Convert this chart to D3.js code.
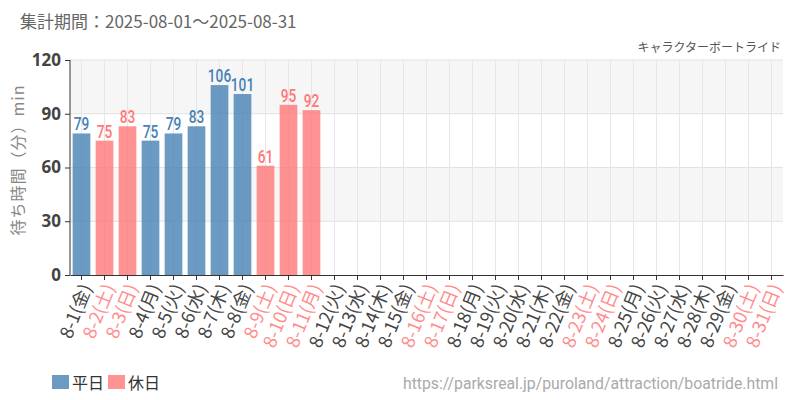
<!DOCTYPE html>
<html><head><meta charset="utf-8">
<script src="https://cdn.jsdelivr.net/npm/d3@7/dist/d3.min.js"></script>
<style>body{margin:0;background:#fff;}svg{display:block;font-family:"Noto Sans CJK JP","Noto Sans",sans-serif;}</style>
</head><body><svg id="c" width="800" height="400"></svg>
<script>
const days = ["8-1","8-2","8-3","8-4","8-5","8-6","8-7","8-8","8-9","8-10","8-11","8-12","8-13","8-14","8-15","8-16","8-17","8-18","8-19","8-20","8-21","8-22","8-23","8-24","8-25","8-26","8-27","8-28","8-29","8-30","8-31"];
const weekdays = ["金","土","日","月","火","水","木","金","土","日","月","火","水","木","金","土","日","月","火","水","木","金","土","日","月","火","水","木","金","土","日"];
const holiday = [0,1,1,0,0,0,0,0,1,1,1,0,0,0,0,1,1,0,0,0,0,0,1,1,0,0,0,0,0,1,1];
const waits = [79,75,83,75,79,83,106,101,61,95,92,null,null,null,null,null,null,null,null,null,null,null,null,null,null,null,null,null,null,null,null];
const yTicks = [0,30,60,90,120];
const legendLabels = ["平日","休日"];

const svg = d3.select("#c");
const L=70, R=783, T=60, B=275;
const x = d3.scaleBand().domain(days).range([L,R]).paddingInner(0.23).paddingOuter(0.115);
const xc = d => x(d)+x.bandwidth()/2;
const y = d3.scaleLinear().domain([0,120]).range([B,T]);
const blue="#4682b4", red="#ff7777";

// split areas
for(let i=0;i<yTicks.length-1;i++){
  if(i%2===1){
    svg.append("rect").attr("x",L).attr("width",R-L).attr("y",y(yTicks[i+1])).attr("height",y(yTicks[i])-y(yTicks[i+1])).attr("fill","#f6f6f6");
  }
}
// grid
svg.append("g").selectAll("line").data(yTicks.slice(1)).join("line")
  .attr("x1",L).attr("x2",R).attr("y1",d=>y(d)).attr("y2",d=>y(d)).attr("stroke","#e2e2e2");
svg.append("g").selectAll("line").data(days).join("line")
  .attr("x1",d=>xc(d)).attr("x2",d=>xc(d)).attr("y1",T).attr("y2",B).attr("stroke","#e6e6e6");

// bars
const data = days.map((d,i)=>({d,v:waits[i],h:holiday[i]})).filter(o=>o.v!=null);
svg.append("g").selectAll("rect").data(data).join("rect")
  .attr("x",o=>x(o.d)).attr("width",x.bandwidth()).attr("y",o=>y(o.v)).attr("height",o=>B-y(o.v))
  .attr("fill",o=>o.h?red:blue).attr("fill-opacity",0.8);
svg.append("g").selectAll("text").data(data).join("text")
  .attr("transform",o=>`translate(${xc(o.d)},${y(o.v)-3}) scale(0.72,1)`)
  .attr("text-anchor","middle")
  .attr("fill",o=>o.h?red:blue)
  .style("font-family",'"Roboto","Noto Sans",sans-serif')
  .style("font-size","19px").style("font-weight","500")
  .text(o=>o.v);

// y axis
const ya = svg.append("g").attr("transform",`translate(${L},0)`)
  .call(d3.axisLeft(y).tickValues(yTicks).tickSize(5).tickPadding(4));
ya.select(".domain").attr("stroke","#333").attr("d",`M0,${T}V${B}`);
ya.selectAll(".tick line").attr("stroke","#333");
ya.selectAll(".tick text").attr("fill","#444").style("font-size","17px").style("font-weight","bold")
  .style("font-family",'"Open Sans","Noto Sans",sans-serif');

// x axis
const xa = svg.append("g").attr("transform",`translate(0,${B})`)
  .call(d3.axisBottom(x).tickSize(5).tickSizeOuter(0).tickFormat(d=>""));
xa.select(".domain").attr("stroke","#333");
xa.selectAll(".tick line").attr("stroke","#333");
svg.append("g").selectAll("text").data(days).join("text")
  .attr("transform",(d)=>`translate(${xc(d)+5},${B+10}) rotate(-68)`)
  .attr("text-anchor","end").attr("dy","0.35em")
  .attr("fill",(d,i)=>holiday[i]?"#ff8c8c":"#444")
  .style("font-size","18px")
  .text((d,i)=>`${d}(${weekdays[i]})`);

// y title
svg.append("text").attr("transform",`translate(24,${160}) rotate(-90)`)
  .attr("text-anchor","middle").attr("fill","#888").style("font-size","16px").style("letter-spacing","1px")
  .text("待ち時間（分）min");

// header
svg.append("text").attr("x",20).attr("y",28).attr("fill","#666").style("font-size","17px")
  .text("集計期間：2025-08-01～2025-08-31");
svg.append("text").attr("x",781).attr("y",52).attr("text-anchor","end").attr("fill","#555").style("font-size","12px")
  .text("キャラクターボートライド");

// legend
const lg = svg.append("g");
[[52,blue],[108,red]].forEach(([lx,c],i)=>{
  lg.append("rect").attr("x",lx).attr("y",375).attr("width",17).attr("height",14).attr("fill",c).attr("fill-opacity",0.8);
  lg.append("text").attr("x",lx+20).attr("y",389).attr("fill","#333").style("font-size","16px").text(legendLabels[i]);
});
svg.append("text").attr("x",778).attr("y",389).attr("text-anchor","end").attr("fill","#aaa")
  .style("font-size","16px").style("font-family",'"Roboto","Noto Sans",sans-serif')
  .attr("textLength",375).attr("lengthAdjust","spacingAndGlyphs")
  .text("https://parksreal.jp/puroland/attraction/boatride.html");
</script></body></html>
